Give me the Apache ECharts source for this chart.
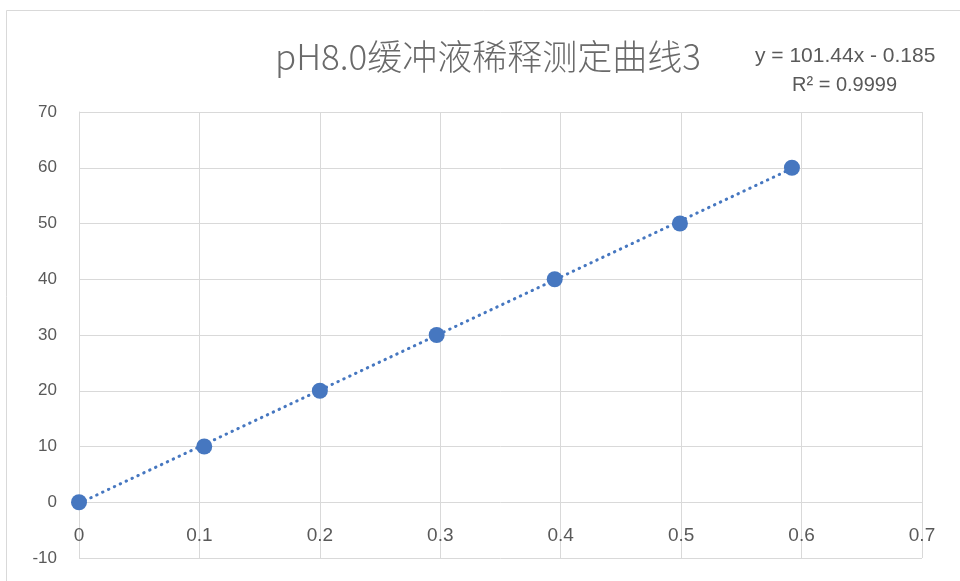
<!DOCTYPE html>
<html><head><meta charset="utf-8">
<script src="https://cdn.jsdelivr.net/npm/echarts@6/dist/echarts.min.js"></script>
<style>html,body{margin:0;padding:0;background:#fff}#c{width:960px;height:581px}</style>
</head><body><div id="c"></div>
<script>
const xValues = [0, 0.104, 0.2, 0.297, 0.395, 0.499, 0.592];
const yValues = [0, 10, 20, 30, 40, 50, 60];
const trendX = [0, 0.592];
const trendY = [-0.185, 59.87];
const titleText = 'pH8.0缓冲液稀释测定曲线3';
const eqText = 'y = 101.44x - 0.185';
const r2Text = 'R² = 0.9999';

const chart = echarts.init(document.getElementById('c'));
const blue = '#4677c0';
const txt = '#595959';
const gridC = '#d9d9d9';
chart.setOption({
  animation: false,
  backgroundColor: '#fff',
  title: {
    text: titleText, left: 483, top: 34, textAlign: 'center',
    textStyle: {fontSize: 35, fontWeight: 300, color: '#6a6a6a', fontFamily: 'Noto Sans CJK SC'}
  },
  graphic: [
    {type: 'rect', shape: {x: 6.5, y: 10.5, width: 1000, height: 1000}, style: {fill: 'none', stroke: '#d9d9d9', lineWidth: 1}, silent: true},
    {type: 'text', left: 755, top: 46, style: {text: eqText, fontSize: 21, fill: txt, fontFamily: 'Liberation Sans'}},
    {type: 'text', left: 792, top: 75, style: {text: r2Text, fontSize: 20, fill: txt, fontFamily: 'Liberation Sans'}}
  ],
  grid: {left: 79, right: 38, top: 112, bottom: 23, outerBoundsMode: 'none', containLabel: false},
  xAxis: {
    type: 'value', min: 0, max: 0.7, interval: 0.1,
    axisLine: {show: false, onZero: false},
    axisTick: {show: false},
    axisLabel: {margin: -32, fontSize: 19, color: txt, fontFamily: 'Liberation Sans',
      formatter: v => String(Math.round(v * 10) / 10)},
    splitLine: {show: true, lineStyle: {color: gridC, width: 1}}
  },
  yAxis: {
    type: 'value', min: -10, max: 70, interval: 10,
    axisLine: {show: true, onZero: false, lineStyle: {color: gridC}},
    axisTick: {show: false},
    axisLabel: {margin: 22, fontSize: 17, color: txt, fontFamily: 'Liberation Sans'},
    splitLine: {show: true, lineStyle: {color: gridC, width: 1}}
  },
  series: [
    {
      type: 'line', data: trendX.map((x, i) => [x, trendY[i]]), symbol: 'none',
      lineStyle: {color: blue, width: 3, type: [0.5, 6], cap: 'round'}, z: 2
    },
    {
      type: 'scatter', data: xValues.map((x, i) => [x, yValues[i]]),
      symbol: 'circle', symbolSize: 16, itemStyle: {color: blue, opacity: 1}, z: 3
    }
  ]
});
</script></body></html>
